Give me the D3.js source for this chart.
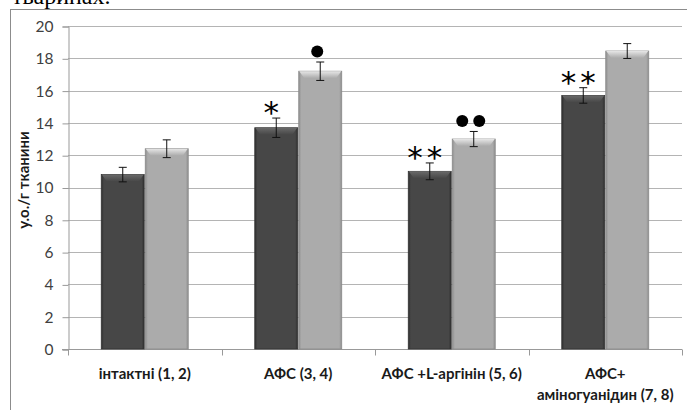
<!DOCTYPE html>
<html>
<head>
<meta charset="utf-8">
<script src="https://d3js.org/d3.v7.min.js"></script>
<style>
  body { margin: 0; background: #fff; }
  text { font-family: Lato, "Open Sans", sans-serif; }
</style>
</head>
<body>
<script>
// groups along the x axis, each label may have two lines
var groups = ["інтактні (1, 2)", "АФС (3, 4)", "АФС +L-аргінін (5, 6)", "АФС+\nаміногуанідин (7, 8)"];
var series = ["dark", "light"];
var darkValues = [10.8, 13.7, 11.0, 15.7];
var darkErrors = [0.45, 0.6, 0.52, 0.48];
var lightValues = [12.4, 17.2, 13.0, 18.45];
var lightErrors = [0.55, 0.57, 0.47, 0.46];
var darkMarks = ["", "*", "**", "**"];
var lightMarks = [0, 1, 2, 0]; // number of dots
var yTicks = [0, 2, 4, 6, 8, 10, 12, 14, 16, 18, 20];
var yLabel = "у.о./г тканини";

var width = 687, height = 410;
var svg = d3.select("body").append("svg")
    .attr("width", width)
    .attr("height", height);

var defs = svg.append("defs");
function sideGrad(id, edge, mid) {
  var g = defs.append("linearGradient").attr("id", id)
      .attr("x1", "0").attr("x2", "1").attr("y1", "0").attr("y2", "0");
  g.append("stop").attr("offset", "0").attr("stop-color", edge);
  g.append("stop").attr("offset", "0.06").attr("stop-color", mid);
  g.append("stop").attr("offset", "0.94").attr("stop-color", mid);
  g.append("stop").attr("offset", "1").attr("stop-color", edge);
}
sideGrad("gdark", "#2e2e2e", "#474747");
sideGrad("glight", "#8e8e8e", "#ababab");
function topGrad(id, a, b) {
  var g = defs.append("linearGradient").attr("id", id)
      .attr("x1", "0").attr("x2", "0").attr("y1", "0").attr("y2", "1");
  g.append("stop").attr("offset", "0").attr("stop-color", a);
  g.append("stop").attr("offset", "1").attr("stop-color", b);
}
topGrad("tdark", "#6a6a6a", "#474747");
topGrad("tlight", "#e6e6e6", "#ababab");

// top text left over from the page, cut by the edge as in the scan
svg.append("text")
    .attr("x", 12).attr("y", 4)
    .style("font-family", "'Liberation Serif', serif")
    .style("font-size", "24px")
    .attr("fill", "#000")
    .text("тваринах.");

// chart frame
svg.append("rect")
    .attr("x", 10.5).attr("y", 9.5)
    .attr("width", 700).attr("height", 420)
    .attr("fill", "none")
    .attr("stroke", "#8c8c8c");

var x0 = d3.scaleBand().domain(d3.range(groups.length)).range([68, 682]);
var x1 = d3.scaleBand().domain(series).range([0, x0.bandwidth()]).paddingOuter(0.745);
var y = d3.scaleLinear().domain([0, 20]).range([349, 26]);

// grid
svg.append("g")
  .selectAll("line")
  .data(yTicks.slice(1))
  .enter().append("line")
    .attr("x1", 68).attr("x2", 682)
    .attr("y1", function(d) { return Math.round(y(d)) + 0.5; })
    .attr("y2", function(d) { return Math.round(y(d)) + 0.5; })
    .attr("stroke", "#b4b4b4");

// y axis
var yAxis = svg.append("g")
    .attr("transform", "translate(68.5,0.5)")
    .call(d3.axisLeft(y).tickValues(yTicks).tickSize(6).tickPadding(9));
yAxis.select(".domain").attr("stroke", "#999");
yAxis.selectAll(".tick line").attr("stroke", "#999");
yAxis.selectAll(".tick text")
    .attr("fill", "#404040")
    .style("font-family", "Lato, sans-serif")
    .style("font-size", "15.5px");

// x axis
var xAxis = svg.append("g").attr("transform", "translate(0,349.5)");
xAxis.append("line").attr("x1", 62).attr("x2", 682).attr("stroke", "#999");
xAxis.selectAll(".tk")
  .data(d3.range(groups.length + 1))
  .enter().append("line")
    .attr("x1", function(d) { return Math.round(68 + d * x0.step()) + 0.5; })
    .attr("x2", function(d) { return Math.round(68 + d * x0.step()) + 0.5; })
    .attr("y1", 0).attr("y2", 6)
    .attr("stroke", "#999");

xAxis.selectAll(".lbl")
  .data(groups)
  .enter().append("text")
    .attr("text-anchor", "middle")
    .attr("fill", "#1a1a1a")
    .style("font-weight", "bold")
    .style("font-size", "15px")
    .each(function(d, i) {
      var lines = d.split("\n");
      var t = d3.select(this);
      lines.forEach(function(s, j) {
        t.append("tspan")
          .attr("x", x0(i) + x0.bandwidth() / 2)
          .attr("y", 29 + j * 21)
          .text(s);
      });
    });

// y label
svg.append("text")
    .attr("transform", "translate(29,180) rotate(-90)")
    .attr("text-anchor", "middle")
    .attr("fill", "#1a1a1a")
    .style("font-weight", "bold")
    .style("font-size", "15px")
    .text(yLabel);

var rows = groups.map(function(g, i) {
  return [
    {s: "dark", i: i, v: darkValues[i], e: darkErrors[i]},
    {s: "light", i: i, v: lightValues[i], e: lightErrors[i]}
  ];
});
var all = [].concat.apply([], rows);

var bars = svg.append("g").selectAll("g")
  .data(all)
  .enter().append("g")
    .attr("transform", function(d) { return "translate(" + (x0(d.i) + x1(d.s)) + ",0)"; });

var bw = x1.bandwidth();
bars.append("rect")
    .attr("x", 0.5)
    .attr("y", function(d) { return y(d.v); })
    .attr("width", bw - 1)
    .attr("height", function(d) { return y(0) - y(d.v); })
    .attr("fill", function(d) { return "url(#g" + d.s + ")"; })
    .attr("stroke", function(d) { return d.s == "dark" ? "#333" : "#8a8a8a"; })
    .attr("stroke-width", 0.8);

// bevel on top
bars.append("path")
    .attr("d", function(d) {
      var t = y(d.v), h = 7;
      return "M1," + t + "L" + (bw - 1) + "," + t + "L" + (bw - 6) + "," + (t + h) +
        "L6," + (t + h) + "Z";
    })
    .attr("fill", function(d) { return "url(#t" + d.s + ")"; });

// error bars
var err = bars.append("g").attr("stroke", "#111").attr("stroke-width", 1);
err.append("line")
    .attr("x1", bw / 2).attr("x2", bw / 2)
    .attr("y1", function(d) { return y(d.v + d.e); })
    .attr("y2", function(d) { return y(d.v - d.e); });
err.append("line")
    .attr("x1", bw / 2 - 4).attr("x2", bw / 2 + 4)
    .attr("y1", function(d) { return y(d.v + d.e); })
    .attr("y2", function(d) { return y(d.v + d.e); });
err.append("line")
    .attr("x1", bw / 2 - 4).attr("x2", bw / 2 + 4)
    .attr("y1", function(d) { return y(d.v - d.e); })
    .attr("y2", function(d) { return y(d.v - d.e); });

// significance marks
bars.filter(function(d) { return d.s == "dark" && darkMarks[d.i]; })
  .append("text")
    .attr("x", bw / 2 - 3)
    .attr("y", function(d) { return y(d.v + d.e) + 5; })
    .attr("text-anchor", "middle")
    .attr("fill", "#000")
    .style("font-family", "'DejaVu Sans', sans-serif")
    .style("font-size", "31px")
    .style("letter-spacing", "4px")
    .text(function(d) { return darkMarks[d.i]; });

bars.filter(function(d) { return d.s == "light" && lightMarks[d.i] > 0; })
  .each(function(d) {
    var n = lightMarks[d.i];
    var g = d3.select(this);
    d3.range(n).forEach(function(k) {
      g.append("circle")
        .attr("cx", bw / 2 - 3 + (k - (n - 1) / 2) * 17)
        .attr("cy", y(d.v + d.e) - 10.5)
        .attr("r", 6)
        .attr("fill", "#000");
    });
  });
</script>
</body>
</html>
